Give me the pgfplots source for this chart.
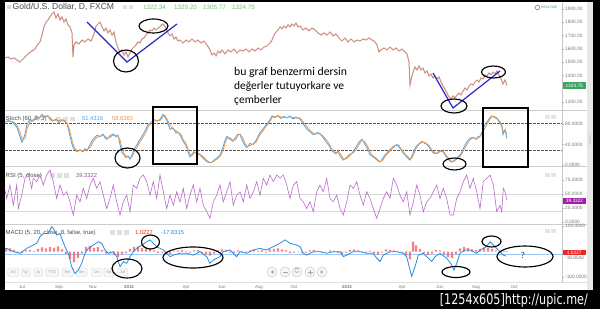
\documentclass[border=0pt]{standalone}
\usepackage{pgfplots}
\usepackage{pgfplotstable}
\pgfplotsset{compat=1.18}
\usepackage{fontspec}
\setmainfont{Liberation Sans}
\newfontfamily\calfont{Carlito}
\newfontfamily\djfont{DejaVu Sans}
\newcommand{\fs}[1]{\fontsize{#1}{#1}\selectfont}
\definecolor{pricecol}{RGB}{205,140,125}
\definecolor{stochk}{RGB}{70,165,235}
\definecolor{stochd}{RGB}{240,150,70}
\definecolor{rsicol}{RGB}{185,105,205}
\definecolor{macdcol}{RGB}{40,140,230}
\definecolor{histcol}{RGB}{240,90,90}
\definecolor{annblue}{RGB}{40,40,200}
\definecolor{lblgray}{RGB}{120,120,120}
\definecolor{titlegreen}{RGB}{120,190,120}
\definecolor{boxgreen}{RGB}{60,165,95}
\definecolor{boxpurple}{RGB}{160,30,170}
\definecolor{boxred}{RGB}{235,40,40}
\pgfplotsset{
  panel/.style={scale only axis, width=557bp, xmin=5, xmax=562,
    axis line style={draw=none}, xtick=\empty, ytick pos=right,
    yticklabel pos=right, tick align=outside, major tick length=2bp,
    ytick style={draw=gray!60, line width=0.4bp},
    scaled y ticks=false,
    yticklabel style={font=\fs{4.8}, text=lblgray, inner sep=1bp,
      /pgf/number format/assume math mode=true,
      /pgf/number format/fixed, /pgf/number format/fixed zerofill,
      /pgf/number format/1000 sep={}},
    clip=true},
}
\pgfplotstableread{
x k d
5 84 84
9 86 85
13 82 84
17 73 77
20 55 64
22 44 50
25 60 52
27 79 70
30 88 84
33 85 86
36 95 90
39 90 92
42 98 94
45 92 95
48 96 94
50 88 92
53 85 86
56 89 87
59 82 86
62 88 85
65 84 86
67 80 82
69 65 72
71 48 56
73 34 41
75 30 32
77 26 28
80 30 28
83 26 28
85 32 29
87 28 30
90 40 34
93 50 45
97 58 54
100 55 56
103 60 58
105 53 56
107 50 52
110 57 54
113 60 58
116 55 58
118 58 56
120 40 49
122 24 32
124 20 22
126 15 18
128 18 16
130 12 15
132 20 16
134 30 25
137 40 35
140 50 45
143 59 54
146 70 64
148 79 74
151 82 80
154 88 85
157 85 86
160 88 86
163 98 93
165 93 96
167 85 89
170 69 77
173 72 70
176 62 67
178 64 63
181 55 60
183 46 50
186 38 42
188 25 32
190 16 20
192 22 19
194 26 24
197 22 24
200 20 21
203 14 17
206 8 11
209 5 6
212 6 6
214 10 8
217 14 12
220 20 17
223 35 28
225 48 42
227 56 52
230 50 53
233 46 48
236 55 50
238 60 58
240 59 60
243 45 52
245 38 42
247 34 36
250 42 38
253 40 41
256 48 44
258 55 52
260 63 59
263 70 66
265 75 72
267 79 77
270 88 84
272 95 92
275 92 94
278 96 94
281 90 93
284 94 92
287 91 92
290 95 93
293 89 92
296 93 91
300 89 91
303 80 84
307 69 74
310 65 67
313 59 62
316 62 60
318 63 62
321 58 60
323 54 56
326 45 50
329 38 42
331 30 34
333 26 28
336 22 24
338 28 25
340 18 23
343 10 14
346 14 12
349 20 17
351 22 21
353 26 24
356 35 30
359 45 40
362 50 48
365 40 45
368 30 35
370 20 25
373 16 18
376 12 14
378 8 10
380 6 7
383 14 10
385 20 17
387 24 22
390 30 27
393 36 33
395 38 37
397 40 39
399 35 38
401 30 32
403 24 27
405 20 22
407 15 18
410 10 12
412 18 14
414 28 23
416 36 32
418 40 38
420 43 42
422 46 44
425 42 44
427 40 41
429 35 38
431 30 32
433 24 27
436 22 23
438 25 24
440 28 26
443 26 27
445 20 23
447 14 17
450 8 11
452 6 7
454 10 8
457 14 12
460 20 17
462 26 23
464 35 30
467 46 40
470 52 49
473 54 53
476 50 52
478 55 52
480 56 56
482 64 60
485 79 72
488 86 82
490 92 89
492 95 94
494 93 94
497 89 91
499 84 86
501 78 81
502 73 76
503 59 66
505 69 64
506 60 64
507 51.43 58.64
}\stochtable
\begin{document}
\begin{tikzpicture}[x=1bp,y=1bp]
\useasboundingbox (0,0) rectangle (600,309);
\fill[black] (0,0) rectangle (600,309);
\fill[white] (5,19.5) rectangle (593,307);
\fill[gray!18] (587,19.5) rectangle (593,307);
% ---------- underlay UI (pixel coordinates, y downward)
\begin{scope}[yshift=309bp, yscale=-1]
  \draw[gray!40, line width=0.6bp] (5,110.5) -- (587,110.5);
  \draw[gray!40, line width=0.6bp] (5,166.5) -- (587,166.5);
  \draw[gray!40, line width=0.6bp] (5,224.5) -- (587,224.5);
  \draw[gray!25, line width=0.5bp] (5,282.5) -- (587,282.5);
  \draw[gray!45, line width=0.5bp] (562,3) -- (562,283);
  % range buttons
  \foreach \cx/\w/\t in {13.3/11/All,25.7/9/5y,38.3/9/1y,52.3/13/YTD,67.7/11/6m,81.7/11/3m,96.7/11/1m,109/10/5d,122.7/10/1d}{
    \draw[gray!35, fill=gray!6, rounded corners=1.5bp, line width=0.4bp] (\cx-\w/2,268) rectangle (\cx+\w/2,276.5);
    \node[text=gray!70, font=\fs{4.2}, inner sep=0] at (\cx,272.3) {\t};
  }
  % navigation circles
  \foreach \cx in {272,285,297,310,322}{
    \draw[gray!40, fill=gray!6, line width=0.5bp] (\cx,272) circle (5bp);
  }
  \fill[gray!70] (270.5,272) -- (273.5,270.2) -- (273.5,273.8) -- cycle;
  \draw[gray!70, line width=0.7bp] (282.5,272) -- (287.5,272);
  \draw[gray!70, line width=0.6bp] (299,271) arc[start angle=20, end angle=320, radius=2.2bp];
  \draw[gray!70, line width=0.7bp] (307.5,272) -- (312.5,272) (310,269.5) -- (310,274.5);
  \fill[gray!70] (323.5,272) -- (320.5,270.2) -- (320.5,273.8) -- cycle;
  % panel labels
  \fill[gray!30] (6.5,5) rectangle (10.5,9);
  \node[anchor=west, inner sep=0, text=gray!60!black, font=\fs{8.6}] at (12.5,7.3) {Gold/U.S. Dollar, D, FXCM};
  \foreach \sx in {123,128.5}{\fill[gray!25] (\sx,5.3) rectangle (\sx+4.2,9.5);}
  \foreach \vx/\v in {143/1322.34,174/1329.20,203/1305.77,232/1324.75}{
    \node[anchor=west, inner sep=0, text=titlegreen, font=\fs{6.3}] at (\vx,7.5) {\v};}
  \node[anchor=west, inner sep=0, text=gray!60!black, font=\fs{6}] at (5.5,119) {Stoch (60, 3, 3)};
  \foreach \sx in {56,63,70}{\fill[gray!25] (\sx,116.8) rectangle (\sx+5,121.3);}
  \node[anchor=west, inner sep=0, text=stochk, font=\fs{5.8}] at (82,119) {51.4316};
  \node[anchor=west, inner sep=0, text=stochd, font=\fs{5.8}] at (112,119) {58.6383};
  \node[anchor=west, inner sep=0, text=gray!60!black, font=\fs{6}] at (5.5,175.5) {RSI (5, close)};
  \foreach \sx in {50,57,64}{\fill[gray!25] (\sx,173.3) rectangle (\sx+5,177.8);}
  \node[anchor=west, inner sep=0, text=rsicol!80!black, font=\fs{5.8}] at (76,175.5) {39.3322};
  \node[anchor=west, inner sep=0, text=gray!60!black, font=\fs{6}] at (5.5,232.5) {MACD (5, 20, close, 8, false, true)};
  \foreach \sx in {110,117,124}{\fill[gray!25] (\sx,230.3) rectangle (\sx+5,234.8);}
  \node[anchor=west, inner sep=0, text=boxred, font=\fs{5.8}] at (135,232.5) {1.0227};
  \node[anchor=west, inner sep=0, text=macdcol, font=\fs{5.8}] at (161,232.5) {-17.8315};
  % realtime + panel buttons
  \draw[boxgreen, line width=0.6bp] (537.5,7.5) circle (2.3bp);
  \node[anchor=west, inner sep=0, text=boxgreen, font=\fs{3.3}] at (541,7.5) {REALTIME};
  \foreach \py in {117,175,231}{\fill[gray!20] (545,\py-2.3) rectangle (549.5,\py+2.3); \fill[gray!20] (551,\py-2.3) rectangle (555.5,\py+2.3);}
\end{scope}
% ---------- price panel
\begin{axis}[panel, at={(5bp,198.5bp)}, anchor=south west, height=107.5bp,
  ymin=1136.7, ymax=1945, ytick={1200,1400,1500,1600,1700,1800,1900},
  yticklabel style={/pgf/number format/precision=2}]
\addplot[pricecol, line width=1bp] table {
x p
5 1532
8 1539
11 1524
14 1532
17 1516
20 1501
23 1524
26 1547
29 1569
32 1584
35 1599
38 1637
40 1652
42 1704
44 1765
46 1802
48 1817
50 1840
52 1862
54 1877
56 1832
58 1862
60 1817
62 1840
64 1802
66 1825
68 1780
70 1765
72 1720
73 1539
74 1629
76 1652
79 1637
82 1667
85 1652
88 1674
91 1659
94 1712
96 1772
98 1787
100 1802
102 1765
104 1735
106 1757
108 1720
110 1742
112 1704
114 1727
116 1652
118 1607
120 1577
122 1592
124 1554
126 1577
128 1539
130 1569
132 1599
134 1614
136 1629
138 1652
140 1644
142 1674
144 1682
146 1704
148 1720
150 1742
152 1735
154 1757
156 1742
158 1757
160 1765
162 1787
164 1780
166 1757
168 1720
170 1697
172 1712
174 1674
176 1689
178 1659
180 1667
183 1644
186 1667
189 1652
192 1674
195 1652
198 1667
201 1644
204 1659
207 1629
210 1592
212 1554
214 1569
216 1547
218 1584
220 1569
222 1592
225 1562
228 1592
231 1577
234 1599
237 1569
240 1592
243 1584
246 1599
249 1577
252 1599
255 1584
258 1607
261 1592
264 1614
267 1622
270 1644
272 1667
274 1704
276 1727
278 1742
280 1765
282 1750
284 1772
286 1757
288 1780
290 1765
292 1787
294 1772
296 1795
298 1765
300 1772
303 1742
306 1757
309 1735
312 1757
315 1742
318 1720
321 1704
324 1720
327 1704
330 1727
333 1697
336 1712
339 1682
342 1659
345 1682
348 1652
351 1674
354 1652
357 1667
360 1659
363 1674
366 1667
369 1682
372 1667
375 1652
377 1629
379 1577
381 1592
384 1607
387 1592
390 1614
393 1592
396 1607
399 1584
402 1599
405 1577
407 1562
409 1501
410 1328
411 1366
413 1426
415 1464
417 1441
419 1472
421 1441
423 1456
425 1419
427 1434
429 1396
431 1411
433 1381
435 1396
437 1374
439 1389
441 1351
443 1321
445 1298
447 1268
449 1238
451 1223
453 1246
455 1231
457 1253
459 1268
461 1253
463 1283
465 1306
467 1291
469 1321
471 1336
473 1328
475 1351
477 1366
479 1351
481 1381
483 1374
485 1404
487 1396
489 1419
491 1404
493 1426
495 1411
497 1434
499 1404
501 1374
503 1336
505 1366
507 1324.75
};
\end{axis}
% ---------- stochastic panel
\begin{axis}[panel, at={(5bp,142.5bp)}, anchor=south west, height=56bp,
  ymin=-2.3, ymax=105.4, ytick={0,40,80},
  yticklabel style={/pgf/number format/precision=4}]
\addplot[gray!70!black, line width=0.6bp, dash pattern=on 2.5bp off 1.5bp] coordinates {(5,80) (562,80)};
\addplot[gray!70!black, line width=0.6bp, dash pattern=on 2.5bp off 1.5bp] coordinates {(5,28) (562,28)};
\addplot[stochk, line width=0.8bp] table[x=x, y=k] {\stochtable};
\addplot[stochd, line width=0.8bp] table[x=x, y=d] {\stochtable};
\end{axis}
% ---------- RSI panel
\begin{axis}[panel, at={(5bp,84.5bp)}, anchor=south west, height=58bp,
  ymin=-4.46, ymax=99.1, ytick={0,25,50,75},
  yticklabel style={/pgf/number format/precision=4}]
\addplot[gray!30, line width=0.5bp] coordinates {(5,50) (562,50)};
\addplot[gray!30, line width=0.5bp] coordinates {(5,20) (562,20)};
\addplot[rsicol, line width=0.6bp] table {
x v
5 57
6.7 42
10 66
13.3 30
16.7 66
18.3 24
21.7 48
25 78
28.3 87
31.7 60
33.3 78
36.7 72
40 84
43.3 66
46.7 84
50 93
53.3 72
56.7 42
60 66
63.3 48
66.7 54
70 36
73.3 12.5
76.7 48
80 36
83.3 60
86.7 42
90 66
93.3 78
96.7 60
100 72
103.3 48
106.7 24
110 42
113.3 66
116.7 36
120 12.5
123.3 36
126.7 48
130 18.5
133.3 66
136.7 60
140 78
143.3 84
146.7 72
150 48
153.3 72
156.7 42
160 84
163.3 54
166.7 24
170 48
173.3 30
176.7 54
180 36
183.3 60
186.7 24
190 48
193.3 66
196.7 36
200 60
203.3 30
206.7 18.5
210 6.5
213.3 36
216.7 48
220 66
223.3 36
226.7 54
230 72
233.3 30
236.7 48
240 54
243.3 36
246.7 66
250 42
253.3 54
256.7 72
260 48
263.3 78
266.7 66
270 84
273.3 72
276.7 84
280 78
283.3 84
286.7 66
290 42
293.3 66
296.7 72
300 42
303.3 36
306.7 24
310 36
313.3 18.5
316.7 54
320 66
323.3 54
326.7 78
330 42
333.3 36
336.7 48
340 24
343.3 12.5
346.7 36
350 66
353.3 60
356.7 72
360 48
363.3 30
366.7 54
370 42
373.3 24
376.7 6.5
380 24
383.3 42
386.7 54
390 42
393.3 78
396.7 66
400 48
403.3 36
406.7 54
410 12.5
413.3 36
416.7 66
420 48
423.3 18.5
426.7 36
430 42
433.3 54
436.7 66
440 42
443.3 60
446.7 42
450 12.5
453.3 12.5
456.7 42
460 54
463.3 72
466.7 84
470 60
473.3 78
476.7 54
480 24
483.3 72
486.7 78
490 84
493.3 66
496.7 18.5
500 30
501.7 18.5
503.3 60
505 54
506.7 39.33
};
\end{axis}
% ---------- MACD panel
\begin{axis}[panel, at={(5bp,27bp)}, anchor=south west, height=57.5bp,
  ymin=-118.2, ymax=104.7, ytick={-100,100},
  yticklabel style={/pgf/number format/precision=4},
  xtick={22,59,93,129,186,222,259,294,347,402,440,476,514},
  xticklabels={Jul,Sep,Nov,\textbf{2012},Apr,Jun,Aug,Oct,\textbf{2013},Apr,Jun,Aug,Oct},
  xtick style={draw=none},
  xticklabel style={font=\fs{4.4}, text=lblgray, inner sep=1bp}]
\addplot[macdcol!45, line width=0.5bp] coordinates {(5,-10) (562,-10)};
\addplot[ybar, bar width=2.2bp, bar shift=0pt, fill=histcol, fill opacity=0.75, draw=none] table {
x h
6 10
10 12
14 6
18 -4
22 -6
26 4
30 6
34 2
38 10
42 16
46 12
50 18
54 14
58 20
62 8
66 -10
70 -30
74 -42
78 -25
82 -8
86 18
90 22
94 14
98 18
102 6
106 -8
110 -6
114 -12
118 -22
122 -10
126 -6
130 10
134 18
138 20
142 14
146 16
150 10
154 4
158 -6
162 -4
166 -8
170 -10
174 2
178 4
182 6
186 2
190 -4
194 4
198 6
202 -6
206 -12
210 -16
214 -8
218 4
222 8
226 6
230 -4
234 -6
238 4
242 2
246 -4
250 4
254 6
258 2
262 6
266 -4
270 8
274 10
278 12
282 8
286 4
290 -6
294 -4
298 -2
302 -6
306 -4
310 4
314 6
318 2
322 -4
326 -2
330 4
334 2
338 -6
342 -10
346 -4
350 6
354 8
358 4
362 -2
366 -4
370 2
374 -6
378 -12
382 -4
386 8
390 6
394 4
398 -2
402 -4
406 -14
410 -30
413 38
416 24
420 10
424 -6
428 -14
432 -8
436 6
440 4
444 -12
448 -22
452 -26
456 -10
460 12
464 18
468 14
472 8
476 6
480 10
484 16
488 14
492 10
496 4
500 -2
504 2
507 1.02
};
\addplot[macdcol, line width=0.8bp] table {
x m
5 12.3
6.7 12
13.3 -0.6
20 -7
26.7 12
33.3 25
36.7 32
40 57
43.3 70
48.3 70
51.7 96
53.3 90
56.7 64
60 70
61.7 51
65 19
68.3 -7
71.7 -59
75 -85
78.3 -72
81.7 -46
85 -7
88.3 12
93.3 25
98.3 38
101.7 32
105 6
108.3 -7
113.3 -0.6
116.7 -20
120 -59
123.3 -39
126.7 -46
130 -20
133.3 -0.6
136.7 12
141.7 25
146.7 38
150 45
153.3 32
156.7 19
160 12
163.3 6
166.7 -7
170 -20
173.3 -14
180 -7
186.7 -7
193.3 -14
200 -0.6
206.7 -20
210 -46
213.3 -33
220 -20
223.3 -0.6
230 6
233.3 -7
236.7 -20
240 -0.6
246.7 -7
253.3 6
260 12
266.7 6
273.3 19
280 32
285 45
290 32
296.7 25
300 19
303.3 -7
306.7 -14
313.3 -0.6
320 -0.6
326.7 -7
333.3 -0.6
340 -0.6
343.3 -20
346.7 -14
353.3 -0.6
360 -0.6
366.7 -7
373.3 -7
376.7 -26
380 -39
383.3 -14
390 -0.6
396.7 -0.6
403.3 -7
406.7 -20
410 -72
411.7 -97
415 -59
418.3 -14
423.3 -7
428.3 -26
431.7 -39
435 -20
440 -7
446.7 -26
451.7 -52
454 -72
456.7 -46
460 -7
465 6
470 6
473.3 -0.6
476.7 -7
480 6
486.7 19
490 38
493.3 25
496.7 12
500 -0.6
503.3 -14
506 -17.83
};
\end{axis}
% ---------- overlays (pixel coordinates, y downward)
\begin{scope}[yshift=309bp, yscale=-1]
  % value boxes on the right scale
  \fill[white] (563,80.5) rectangle (586,91);
  \fill[boxgreen] (563,82) rectangle (585.5,89.2);
  \node[text=white, font=\fs{4.8}, inner sep=0] at (574.2,85.6) {1324.75};
  \fill[boxpurple] (563,198) rectangle (586,204.5);
  \node[text=white, font=\fs{4.8}, inner sep=0] at (574.5,201.3) {39.3322};
  \fill[boxred] (563,249.5) rectangle (585.5,255.2);
  \node[text=white, font=\fs{4.8}, inner sep=0] at (574.2,252.4) {1.0227};
  \node[anchor=west, text=lblgray, font=\fs{4.8}, inner sep=0] at (565,257.8) {-18.8542};
  \node[rotate=-90, text=gray!60, font=\fs{3.2}, inner sep=0] at (590,140) {\guillemotleft\ SHOW \guillemotright};
  % blue V lines
  \draw[annblue, line width=1.2bp] (87,22) -- (127,62) -- (177,24);
  \draw[annblue, line width=1.2bp] (433,73) -- (453,108) -- (500,71);
  % ellipses and rectangles
  \begin{scope}[line width=1.15bp, black]
    \draw (126,61) ellipse [x radius=12.5bp, y radius=11bp];
    \draw (153.5,26) ellipse [x radius=14.5bp, y radius=7bp];
    \draw (493.5,72) ellipse [x radius=12bp, y radius=6bp];
    \draw (454,106) ellipse [x radius=13bp, y radius=7bp];
    \draw (127.5,158) ellipse [x radius=12.5bp, y radius=10bp];
    \draw (153,107) rectangle (197,164);
    \draw (483,108) rectangle (528,167);
    \draw (454.5,164) ellipse [x radius=11.5bp, y radius=6bp];
    \draw (150.5,242) ellipse [x radius=9bp, y radius=7bp];
    \draw (127,268.5) ellipse [x radius=15bp, y radius=9.5bp];
    \draw (193,257.5) ellipse [x radius=30bp, y radius=10.5bp];
    \draw (491.5,241.5) ellipse [x radius=9.5bp, y radius=5.5bp];
    \draw (456,272) ellipse [x radius=14bp, y radius=5.5bp];
    \draw (525,256.5) ellipse [x radius=28bp, y radius=10.5bp];
  \end{scope}
  \node[text=black!80, font=\calfont\fs{9}, inner sep=0] at (523,255.5) {?};
  % annotation text
  \node[anchor=base west, inner sep=0, font=\calfont\fs{11.8}] at (234,76) {bu graf benzermi dersin};
  \node[anchor=base west, inner sep=0, font=\calfont\fs{11.5}] at (234,89.7) {değerler tutuyorkare ve};
  \node[anchor=base west, inner sep=0, font=\calfont\fs{11.5}] at (234,103.2) {çemberler};
  % footer
  \node[anchor=base east, inner sep=0, text=white] at (588,304.5) {\resizebox{148bp}{11bp}{\djfont [1254x605]http://upic.me/}};
\end{scope}
\end{tikzpicture}
\end{document}
